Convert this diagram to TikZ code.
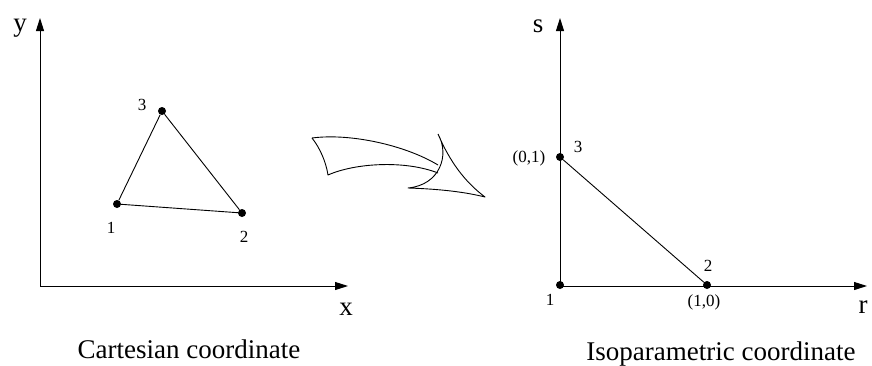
\documentclass[tikz,border=0pt]{standalone}
\usepackage{fontspec}
\setmainfont{Liberation Serif}
\usepackage{tikz}
\usetikzlibrary{arrows.meta,positioning}
\tikzset{
  axisline/.style={-{Triangle[length=13pt,width=8pt]},line width=0.9pt},
  elemedge/.style={line width=0.9pt},
  vertex/.style={circle,fill=black,inner sep=0pt,minimum size=8pt},
  axislabel/.style={font=\fontsize{27}{27}\selectfont,anchor=base,inner sep=0pt},
  numlabel/.style={font=\fontsize{17}{17}\selectfont,inner sep=0pt},
  coordlabel/.style={font=\fontsize{17}{17}\selectfont,inner sep=0pt},
  captionlabel/.style={font=\fontsize{27}{27}\selectfont,anchor=base,inner sep=0pt},
  bendarrow/.style={line width=0.9pt,line join=round}
}
\begin{document}
\begin{tikzpicture}[x=1pt,y=-1pt]
  \useasboundingbox (0,0) rectangle (872,365);
  % Cartesian side
  \coordinate (oxy) at (40,286);
  \coordinate (ytip) at (40,18);
  \coordinate (xtip) at (348,286);
  \draw[axisline] (oxy) -- (ytip);
  \draw[axisline] (oxy) -- (xtip);
  \node[axislabel] (ylab) at (20,31) {y};
  \node[axislabel] (xlab) at (346,315) {x};
  \node[vertex] (n1) at (117,204) {};
  \node[vertex] (n2) at (242,213) {};
  \node[vertex] (n3) at (162,111) {};
  \draw[elemedge] (n1) -- (n2) -- (n3) -- (n1);
  \node[numlabel] (n1lab) at (111,228) {1};
  \node[numlabel] (n2lab) at (244,237) {2};
  \node[numlabel] (n3lab) at (142,105) {3};
  \node[captionlabel] (capxy) at (189,358) {Cartesian coordinate};
  % curved arrow between the two sides
  \draw[bendarrow] (312,138) .. controls (320,148) and (326,162) .. (328,175)
    .. controls (355,163) and (405,160) .. (438,173);
  \draw[bendarrow] (312,138) .. controls (350,133) and (405,145) .. (438,165);
  \draw[bendarrow] (438,134) .. controls (450,155) and (440,185) .. (408,188)
    .. controls (440,189) and (465,192) .. (485,197)
    .. controls (465,182) and (450,162) .. (438,134);
  % isoparametric side
  \coordinate (ors) at (560,286);
  \coordinate (stip) at (560,18);
  \coordinate (rtip) at (867,286);
  \draw[axisline] (ors) -- (stip);
  \draw[axisline] (ors) -- (rtip);
  \node[axislabel] (slab) at (538,32) {s};
  \node[axislabel] (rlab) at (863,313) {r};
  \node[vertex] (m1) at (560,285) {};
  \node[vertex] (m2) at (707,285) {};
  \node[vertex] (m3) at (560,157) {};
  \draw[elemedge] (m3) -- (m2);
  \node[numlabel] (m1lab) at (550,300) {1};
  \node[numlabel] (m2lab) at (708,266) {2};
  \node[numlabel] (m3lab) at (578,147) {3};
  \node[coordlabel] (m3co) at (529,158) {(0,1)};
  \node[coordlabel] (m2co) at (704,302) {(1,0)};
  \node[captionlabel] (caprs) at (721,360) {Isoparametric coordinate};
\end{tikzpicture}
\end{document}
